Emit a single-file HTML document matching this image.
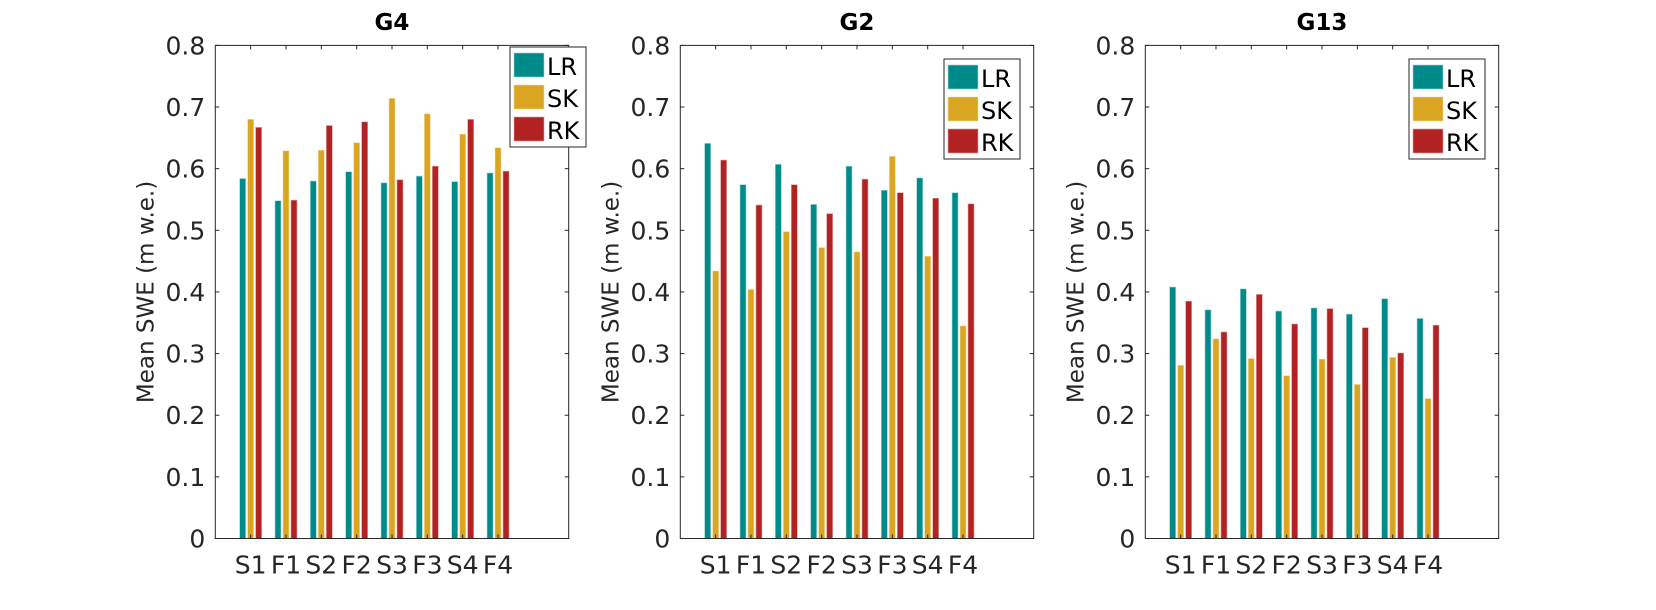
<!DOCTYPE html>
<html><head><meta charset="utf-8"><style>
html,body{margin:0;padding:0;background:#fff;}
svg text{font-family:"DejaVu Sans","Liberation Sans",sans-serif;fill:#262626;}
</style></head><body>
<svg id="fig" width="1656" height="605" viewBox="0 0 1656 605" xmlns="http://www.w3.org/2000/svg"></svg>
<script>
const categories = ["S1","F1","S2","F2","S3","F3","S4","F4"];
const seriesNames = ["LR","SK","RK"];
const panelTitles = ["G4","G2","G13"];
const yTicks = [0,0.1,0.2,0.3,0.4,0.5,0.6,0.7,0.8];
const g4LR = [0.584,0.548,0.580,0.595,0.577,0.588,0.579,0.593];
const g4SK = [0.680,0.629,0.630,0.642,0.714,0.689,0.656,0.634];
const g4RK = [0.667,0.549,0.670,0.676,0.582,0.604,0.680,0.596];
const g2LR = [0.641,0.574,0.607,0.542,0.604,0.565,0.585,0.561];
const g2SK = [0.434,0.404,0.498,0.472,0.465,0.620,0.458,0.345];
const g2RK = [0.614,0.541,0.574,0.527,0.583,0.561,0.552,0.543];
const g13LR = [0.408,0.371,0.405,0.369,0.374,0.364,0.389,0.357];
const g13SK = [0.281,0.324,0.292,0.264,0.291,0.250,0.294,0.227];
const g13RK = [0.385,0.335,0.396,0.348,0.373,0.342,0.301,0.346];

const panels = [[g4LR,g4SK,g4RK],[g2LR,g2SK,g2RK],[g13LR,g13SK,g13RK]];
const colors = ["#008b8b","#daa520","#b22222"];
const edges = ["#9fd3d3","#f1dba0","#e0a0a0"];
const svg = document.getElementById('fig');
const NS = "http://www.w3.org/2000/svg";
function mk(tag, attrs, parent){const e=document.createElementNS(NS,tag);for(const k in attrs)e.setAttribute(k,attrs[k]);parent.appendChild(e);return e;}
const lefts=[215.3,680.3,1145.3], W=353.4, axTop=45.4, axBottom=538.5;
const legendX=[510,944,1409];
panels.forEach((series,p)=>{
  const g=mk('g',{},svg);
  
  
  const L=lefts[p];
  const xs=v=>L+v/10*W;
  const ys=v=>axBottom-v/0.8*(axBottom-axTop);
  series.forEach((vals,s)=>{
    vals.forEach((v,i)=>{
      const cx=xs(i+1+(s-1)*0.226);
      const r=mk('rect',{x:cx-3,y:ys(v),width:6,height:axBottom-ys(v),fill:colors[s],stroke:edges[s],'stroke-width':0.6},g);
      
      
    });
  });
  const box=mk('rect',{x:L,y:axTop,width:W,height:axBottom-axTop,fill:'none',stroke:'#262626','stroke-width':1},g);
  
  
  yTicks.forEach(t=>{
    const y=ys(t);
    mk('line',{x1:L,x2:L+4,y1:y,y2:y,stroke:'#262626'},g);
    mk('line',{x1:L+W,x2:L+W-4,y1:y,y2:y,stroke:'#262626'},g);
    const tx=mk('text',{x:L-10,y:y+9,'text-anchor':'end','font-size':25},g);
    tx.textContent=t===0?'0':t.toFixed(1);
    
    
  });
  categories.forEach((c,i)=>{
    const x=xs(i+1);
    mk('line',{x1:x,x2:x,y1:axBottom,y2:axBottom-4,stroke:'#262626'},g);
    mk('line',{x1:x,x2:x,y1:axTop,y2:axTop+4,stroke:'#262626'},g);
    const tx=mk('text',{x:x,y:axBottom+35,'text-anchor':'middle','font-size':25},g);
    tx.textContent=c;
    
    
  });
  const ti=mk('text',{x:L+W/2,y:30,'text-anchor':'middle','font-size':23,'font-weight':'bold',style:'fill:#000'},g);
  ti.textContent=panelTitles[p];
  
  
  const yl=mk('text',{x:0,y:0,'text-anchor':'middle','font-size':23,transform:`translate(${L-62},${(axTop+axBottom)/2}) rotate(-90)`},g);
  yl.textContent='Mean SWE (m w.e.)';
  
  
  const lx=legendX[p], ly=p===0?47:59;
  const lg=mk('g',{},g);
  
  
  mk('rect',{x:lx,y:ly,width:76,height:100,fill:'#fff',stroke:'#262626','stroke-width':1},lg);
  seriesNames.forEach((n,s)=>{
    const e=mk('g',{},lg);
    
    
    mk('rect',{x:lx+4,y:ly+6+s*32,width:30,height:24,fill:colors[s],stroke:edges[s],'stroke-width':0.6},e);
    const t=mk('text',{x:lx+37,y:ly+28+s*32,'font-size':24,style:'fill:#000'},e);
    t.textContent=n;
  });
});
</script>
</body></html>
